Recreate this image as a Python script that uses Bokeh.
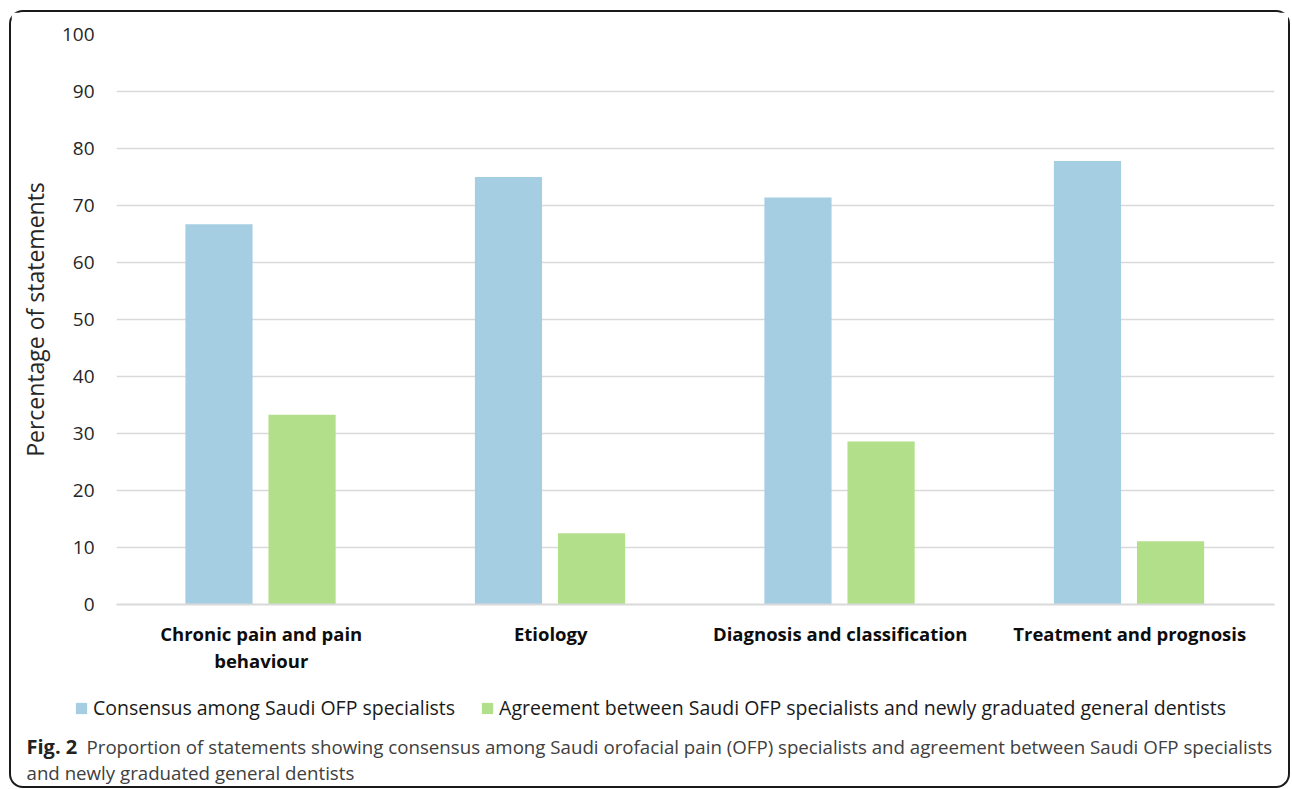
from bokeh.plotting import figure
from bokeh.models import Range1d, FactorRange, ColumnDataSource, Legend, LegendItem, Label
from bokeh.transform import dodge
from bokeh.embed import file_html
from bokeh.resources import INLINE

# ---------------- data ----------------
categories = ["Chronic pain and pain\nbehaviour", "Etiology",
              "Diagnosis and classification", "Treatment and prognosis"]
consensus = [66.7, 75.0, 71.4, 77.8]
agreement = [33.3, 12.5, 28.6, 11.1]
series_names = ["Consensus among Saudi OFP specialists",
                "Agreement between Saudi OFP specialists and newly graduated general dentists"]
y_ticks = [0, 10, 20, 30, 40, 50, 60, 70, 80, 90, 100]
y_title = "Percentage of statements"
caption_bold = "Fig. 2"
caption_line1 = ("Proportion of statements showing consensus among Saudi orofacial pain (OFP) "
                 "specialists and agreement between Saudi OFP specialists")
caption_line2 = "and newly graduated general dentists"

# ---------------- style ----------------
BLUE = "#a6cee3"
GREEN = "#b2df8a"
GRID = "#d9d9d9"
FONT = "Open Sans"
EDGE = "2px solid #1a1a1a"
W = 1281

source = ColumnDataSource(dict(cat=categories, consensus=consensus, agreement=agreement))

# ---------------- chart ----------------
p = figure(x_range=FactorRange(factors=categories, range_padding=0, factor_padding=0),
           y_range=Range1d(0, 100),
           width=W, height=680,
           output_backend="svg", toolbar_location=None,
           min_border_left=105, min_border_right=18,
           min_border_top=22, min_border_bottom=88)
p.styles = {"position": "absolute", "left": "9px", "top": "10px",
            "border-top": EDGE, "border-left": EDGE, "border-right": EDGE,
            "border-top-left-radius": "14px", "border-top-right-radius": "14px"}

p.vbar(x=dodge("cat", -0.146, range=p.x_range), top="consensus", width=0.232,
       source=source, fill_color=BLUE, line_color=None)
p.vbar(x=dodge("cat", 0.141, range=p.x_range), top="agreement", width=0.232,
       source=source, fill_color=GREEN, line_color=None)

p.outline_line_color = None
p.background_fill_color = "white"
p.border_fill_color = "white"

p.xgrid.grid_line_color = None
p.ygrid.grid_line_color = GRID
p.ygrid.grid_line_width = 1.5
p.ygrid.ticker = y_ticks

p.yaxis.ticker = y_ticks
p.yaxis.axis_line_color = None
p.yaxis.major_tick_line_color = None
p.yaxis.minor_tick_line_color = None
p.yaxis.major_tick_out = 0
p.yaxis.major_label_standoff = 22
p.yaxis.major_label_text_font = FONT
p.yaxis.major_label_text_font_size = "19px"
p.yaxis.major_label_text_color = "#262626"
p.yaxis.axis_label = y_title
p.yaxis.axis_label_text_font = FONT
p.yaxis.axis_label_text_font_size = "23px"
p.yaxis.axis_label_text_font_style = "normal"
p.yaxis.axis_label_text_color = "#262626"
p.yaxis.axis_label_standoff = 8

xa = p.xaxis[0]
xa.axis_line_color = GRID
xa.axis_line_width = 2
xa.major_tick_line_color = None
xa.minor_tick_line_color = None
xa.major_tick_out = 0
xa.major_tick_in = 0
xa.major_label_standoff = 16
xa.major_label_text_font = FONT
xa.major_label_text_font_size = "18.5px"
xa.major_label_text_font_style = "bold"
xa.major_label_text_color = "#0d0d0d"
xa.major_label_text_line_height = 1.1

# ---------------- legend + caption strip ----------------
# same factors; y range far above the data so its bars stay out of view and
# only serve as legend swatches
p2 = figure(width=W, height=98, output_backend="svg", toolbar_location=None,
            x_range=p.x_range, y_range=Range1d(1000, 1001),
            x_axis_type=None, y_axis_type=None,
            min_border_left=0, min_border_right=0, min_border_top=0, min_border_bottom=0)
p2.styles = {"position": "absolute", "left": "9px", "top": "690px",
             "border-bottom": EDGE, "border-left": EDGE, "border-right": EDGE,
             "border-bottom-left-radius": "14px", "border-bottom-right-radius": "14px"}
p2.outline_line_color = None
p2.xgrid.grid_line_color = None
p2.ygrid.grid_line_color = None
p2.border_fill_alpha = 0
p2.background_fill_alpha = 0

k1 = p2.vbar(x="cat", top="consensus", width=0.232, source=source,
             fill_color=BLUE, line_color=None)
k2 = p2.vbar(x="cat", top="agreement", width=0.232, source=source,
             fill_color=GREEN, line_color=None)

legend = Legend(items=[LegendItem(label=series_names[0], renderers=[k1]),
                       LegendItem(label=series_names[1], renderers=[k2])],
                orientation="horizontal", location=(63, 67),
                glyph_width=14, glyph_height=14, label_standoff=5, spacing=25,
                padding=0, margin=0, border_line_color=None, background_fill_alpha=0,
                label_text_font=FONT, label_text_font_size="19.5px",
                label_text_color="#1a1a1a")
p2.add_layout(legend, "center")

p2.add_layout(Label(x=15, y=42, x_units="screen", y_units="screen", text=caption_bold,
                    text_font=FONT, text_font_size="20px", text_font_style="bold",
                    text_color="#222222", text_baseline="middle"))
p2.add_layout(Label(x=75, y=42, x_units="screen", y_units="screen", text=caption_line1,
                    text_font=FONT, text_font_size="18.7px",
                    text_color="#404040", text_baseline="middle"))
p2.add_layout(Label(x=15, y=16, x_units="screen", y_units="screen", text=caption_line2,
                    text_font=FONT, text_font_size="18.7px",
                    text_color="#404040", text_baseline="middle"))

open("out.html", "w").write(file_html([p, p2], INLINE))
